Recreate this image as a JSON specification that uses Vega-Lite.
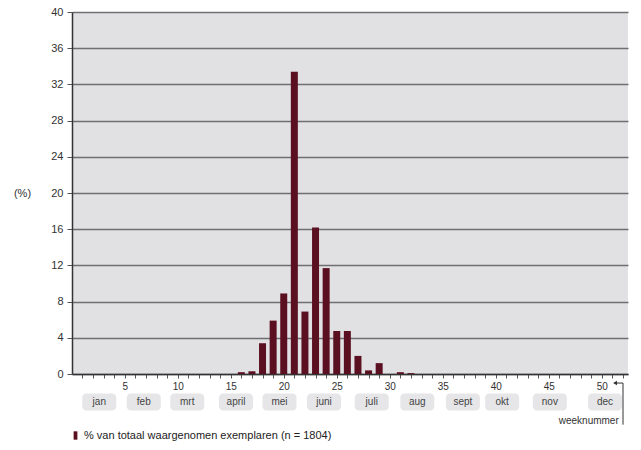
{
  "$schema": "https://vega.github.io/schema/vega-lite/v6.json",
  "width": 556,
  "height": 362,
  "autosize": {"type": "none"},
  "padding": {"left": 72, "top": 12, "right": 13, "bottom": 76},
  "background": "white",
  "config": {
    "view": {"fill": "#e1e1e4", "stroke": null},
    "font": "Liberation Sans",
    "axis": {"labelFont": "Liberation Sans", "titleFont": "Liberation Sans", "labelOverlap": false, "labelFlush": false}
  },
  "layer": [
    {
      "data": {"values": [
        {"week": 16, "pct": 0.2},
        {"week": 17, "pct": 0.3},
        {"week": 18, "pct": 3.4},
        {"week": 19, "pct": 5.9},
        {"week": 20, "pct": 8.9},
        {"week": 21, "pct": 33.4},
        {"week": 22, "pct": 6.9},
        {"week": 23, "pct": 16.2},
        {"week": 24, "pct": 11.7},
        {"week": 25, "pct": 4.75},
        {"week": 26, "pct": 4.75},
        {"week": 27, "pct": 2.0},
        {"week": 28, "pct": 0.4},
        {"week": 29, "pct": 1.2},
        {"week": 31, "pct": 0.2},
        {"week": 32, "pct": 0.1}
      ]},
      "mark": {"type": "bar", "size": 7},
      "encoding": {
        "x": {
          "field": "week", "type": "quantitative",
          "scale": {"domain": [0.5, 52], "nice": false, "zero": false},
          "axis": {
            "values": [1,2,3,4,5,6,7,8,9,10,11,12,13,14,15,16,17,18,19,20,21,22,23,24,25,26,27,28,29,30,31,32,33,34,35,36,37,38,39,40,41,42,43,44,45,46,47,48,49,50,51,52],
            "tickCount": 100,
            "format": "d",
            "labelExpr": "datum.value % 5 == 0 ? datum.label : ''",
            "labelOverlap": false,
            "grid": false, "title": null, "tickSize": 4, "tickColor": "#555",
            "domainColor": "#333", "domainWidth": 1.5,
            "labelFontSize": 10, "labelColor": "#333", "labelPadding": 3
          }
        },
        "y": {
          "field": "pct", "type": "quantitative",
          "scale": {"domain": [0, 40], "nice": false},
          "axis": {
            "values": [0,4,8,12,16,20,24,28,32,36,40],
            "tickCount": 20,
            "format": "d",
            "labelOverlap": false,
            "grid": true, "gridColor": "#6f6f72", "gridWidth": 1.3,
            "domainColor": "#333", "domainWidth": 1.5,
            "tickSize": 5, "tickColor": "#555",
            "labelFontSize": 11, "labelColor": "#333", "labelPadding": 4,
            "title": "(%)", "titleAngle": 0, "titleX": -50, "titleY": 181,
            "titleAlign": "center", "titleBaseline": "middle",
            "titleFontSize": 11, "titleFontWeight": "normal", "titleColor": "#333"
          }
        },
        "color": {
          "datum": "% van totaal waargenomen exemplaren (n = 1804)",
          "type": "nominal",
          "scale": {"range": ["#5b1021"]},
          "legend": {
            "title": null, "orient": "none", "legendX": -2, "legendY": 418,
            "symbolType": "M-0.45,-1H0.45V1H-0.45Z", "symbolSize": 70,
            "symbolStrokeWidth": 0, "labelFontSize": 11, "labelColor": "#222", "labelOffset": 3,
            "labelLimit": 0
          }
        }
      }
    },
    {
      "data": {"values": [
        {"m": "jan", "w": 2.6},
        {"m": "feb", "w": 6.8},
        {"m": "mrt", "w": 10.9},
        {"m": "april", "w": 15.5},
        {"m": "mei", "w": 19.6},
        {"m": "juni", "w": 23.8},
        {"m": "juli", "w": 28.3},
        {"m": "aug", "w": 32.6},
        {"m": "sept", "w": 36.9},
        {"m": "okt", "w": 40.6},
        {"m": "nov", "w": 45.1},
        {"m": "dec", "w": 50.3}
      ]},
      "layer": [
        {
          "mark": {"type": "rect", "color": "#e6e6e8", "width": 34, "height": 17, "cornerRadius": 4},
          "encoding": {
            "x": {"field": "w", "type": "quantitative"},
            "y": {"datum": -3.1}
          }
        },
        {
          "mark": {"type": "text", "fontSize": 10, "color": "#444", "baseline": "middle"},
          "encoding": {
            "x": {"field": "w", "type": "quantitative"},
            "y": {"datum": -3.1},
            "text": {"field": "m"}
          }
        }
      ]
    },
    {
      "data": {"values": [{"t": "weeknummer", "w": 51.6, "v": -5.2}]},
      "mark": {"type": "text", "fontSize": 10, "color": "#333", "align": "right", "baseline": "middle"},
      "encoding": {
        "x": {"field": "w", "type": "quantitative"},
        "y": {"field": "v", "type": "quantitative"},
        "text": {"field": "t"}
      }
    },
    {
      "data": {"values": [
        {"x1": 51.2, "x2": 52.0, "y1": -1.0, "y2": -1.0},
        {"x1": 52.0, "x2": 52.0, "y1": -1.0, "y2": -5.6}
      ]},
      "mark": {"type": "rule", "color": "#333", "strokeWidth": 1},
      "encoding": {
        "x": {"field": "x1", "type": "quantitative"},
        "x2": {"field": "x2"},
        "y": {"field": "y1", "type": "quantitative"},
        "y2": {"field": "y2"}
      }
    },
    {
      "data": {"values": [{"x": 51.25, "y": -1.0}]},
      "mark": {"type": "point", "shape": "triangle-left", "filled": true, "color": "#333", "size": 20, "opacity": 1},
      "encoding": {
        "x": {"field": "x", "type": "quantitative"},
        "y": {"field": "y", "type": "quantitative"}
      }
    }
  ]
}
